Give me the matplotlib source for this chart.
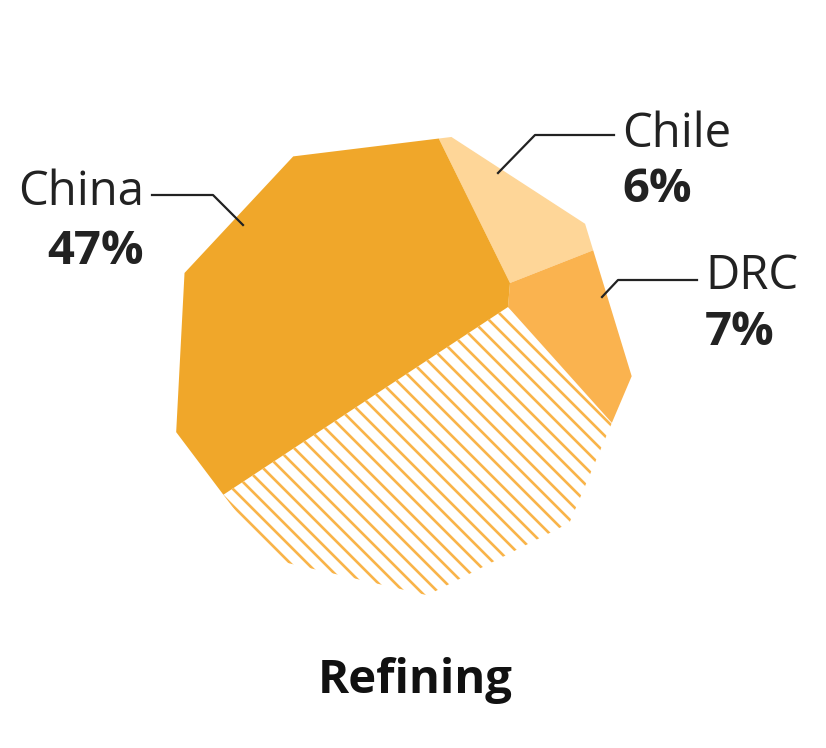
import numpy as np
import matplotlib.pyplot as plt
from matplotlib.patches import Polygon

# data
countries = ['China', 'Chile', 'DRC', 'Other']
shares = [47, 6, 7, 40]
label_countries = ['China', 'Chile', 'DRC']
label_shares = ['47%', '6%', '7%']
title = 'Refining'

colors = {'China': '#F0A72A', 'Chile': '#FED698', 'DRC': '#FAB34F'}
hatch_color = '#F9B449'

plt.rcParams['font.family'] = ['Open Sans', 'DejaVu Sans']

# shape of the polygon "pie" (pixel coords, y down)
cx, cy, R = 399.0, 364.0, 233.0
rot = -3.0          # angle of first vertex
nsides = 9
hub_top = np.array([510.0, 283.0])
hub_low = np.array([508.0, 307.0])
start_angle = 80.0  # China / Chile boundary, slices run clockwise

vert_angles = rot + 360.0 / nsides * np.arange(nsides)


def polar(a, r=R):
    t = np.radians(a)
    return np.array([cx + r * np.cos(t), cy - r * np.sin(t)])


def outline_point(a):
    # where the ray from the centre meets the polygon edge
    a = a % 360
    k = int(((a - rot) % 360) // (360.0 / nsides))
    p1 = polar(vert_angles[k])
    p2 = polar(vert_angles[(k + 1) % nsides])
    d = polar(a, 1.0) - np.array([cx, cy])
    m = np.array([d, p1 - p2]).T
    s, u = np.linalg.solve(m, p1 - np.array([cx, cy]))
    return np.array([cx, cy]) + s * d


def slice_poly(a_start, a_end, h_start, h_end):
    # a_start > a_end, clockwise
    pts = [h_start, outline_point(a_start)]
    inside = [rot + 360.0 / nsides * k for k in range(-2 * nsides, 2 * nsides)]
    inside = sorted([va for va in inside if a_end < va < a_start], reverse=True)
    pts += [polar(va) for va in inside]
    pts.append(outline_point(a_end))
    if not np.allclose(h_start, h_end):
        pts.append(h_end)
    return np.array(pts)


def area(pts):
    x, y = pts[:, 0], pts[:, 1]
    return 0.5 * abs(np.dot(x, np.roll(y, -1)) - np.dot(y, np.roll(x, -1)))


total_area = area(np.array([polar(a) for a in vert_angles]))

# order round the shape from the China/Chile boundary
order = ['Chile', 'DRC', 'Other', 'China']
hubs = [hub_top, hub_top, hub_low, hub_low]   # hub of each boundary
vals = dict(zip(countries, shares))
tot = float(sum(shares))

# find each boundary so that slice area matches its share
bounds = [start_angle]
for i, name in enumerate(order[:-1]):
    target = vals[name] / tot * total_area
    lo, hi = bounds[-1] - 359.0, bounds[-1]
    for _ in range(60):
        mid = 0.5 * (lo + hi)
        ar = area(slice_poly(bounds[-1], mid, hubs[i], hubs[i + 1]))
        if ar > target:
            lo = mid
        else:
            hi = mid
    bounds.append(0.5 * (lo + hi))
bounds.append(start_angle - 360.0)

fig = plt.figure(figsize=(8.26, 7.48), dpi=100)
ax = fig.add_axes([0, 0, 1, 1])
ax.set_xlim(0, 826)
ax.set_ylim(748, 0)
ax.axis('off')

for i, name in enumerate(order):
    pts = slice_poly(bounds[i], bounds[i + 1], hubs[i], hubs[(i + 1) % 4])
    if name == 'Other':
        clip = Polygon(pts, closed=True, facecolor='none', edgecolor='none')
        ax.add_patch(clip)
        step = 17.0
        for b in np.arange(-900, 700, step):
            xs = np.array([0, 826])
            ln, = ax.plot(xs, xs + b, color=hatch_color, lw=1.9,
                          solid_capstyle='butt')
            ln.set_clip_path(clip)
    else:
        ax.add_patch(Polygon(pts, closed=True, facecolor=colors[name],
                             edgecolor='none'))

# labels with leader lines
lead = {
    'China': [(152, 195), (213, 195), (243, 225)],
    'Chile': [(614, 135), (535, 135), (498, 173)],
    'DRC': [(697, 280), (618, 280), (602, 297)],
}
for name in label_countries:
    xy = np.array(lead[name])
    ax.plot(xy[:, 0], xy[:, 1], color='#222222', lw=1.6)

fs = 34
ax.text(144, 192, 'China', fontsize=fs, ha='right', va='center', color='#222222')
ax.text(144, 251, label_shares[0], fontsize=fs, fontweight='bold', ha='right',
        va='center', color='#222222')
ax.text(622, 134, 'Chile', fontsize=fs, ha='left', va='center', color='#222222')
ax.text(622, 189, label_shares[1], fontsize=fs, fontweight='bold', ha='left',
        va='center', color='#222222')
ax.text(705, 276, 'DRC', fontsize=fs, ha='left', va='center', color='#222222')
ax.text(705, 332, label_shares[2], fontsize=fs, fontweight='bold', ha='left',
        va='center', color='#222222')

ax.text(415, 680, title, fontsize=fs, fontweight='bold', ha='center',
        va='center', color='#111111')

fig.savefig('out.png', dpi=100)
